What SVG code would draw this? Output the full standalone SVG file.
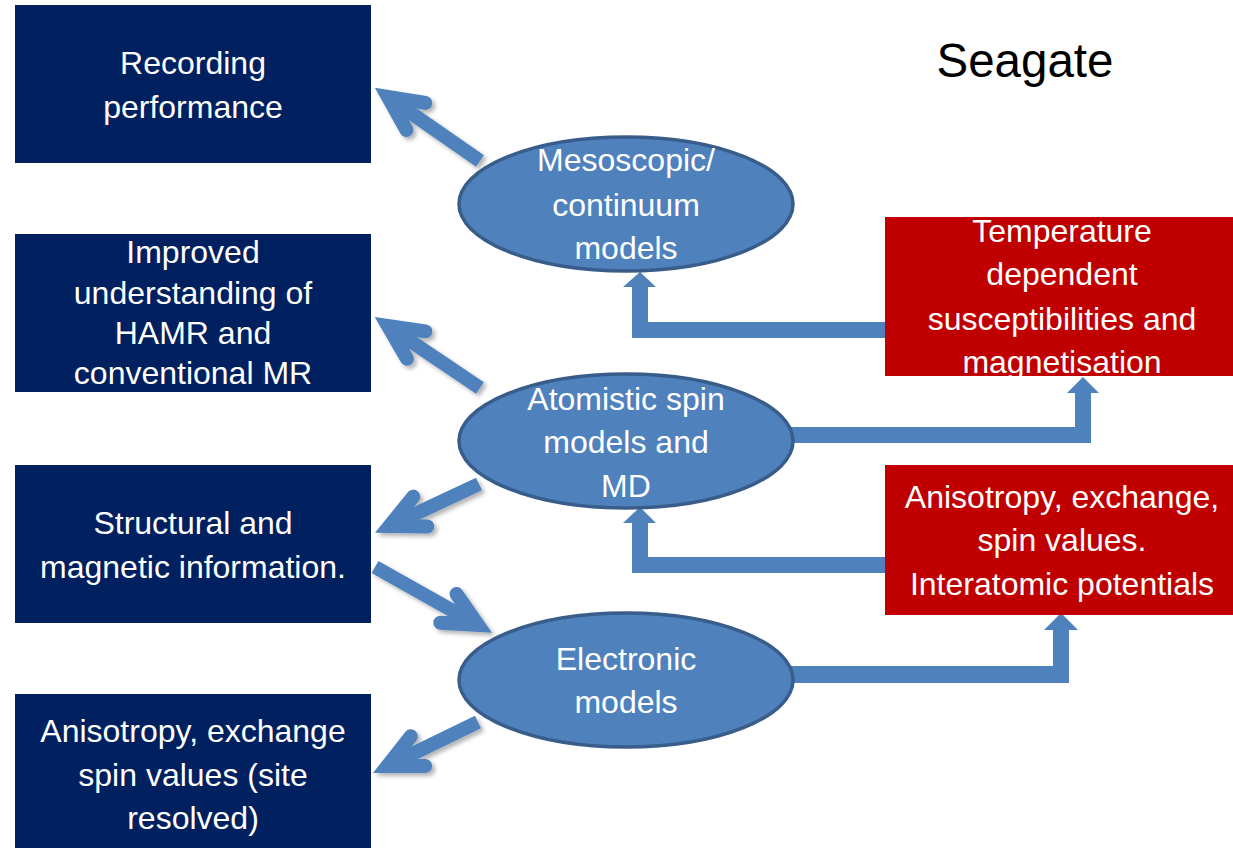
<svg xmlns="http://www.w3.org/2000/svg" width="1233" height="848" viewBox="0 0 1233 848">
  <style>
    .navy { fill: #002060; }
    .red { fill: #C00000; }
    .model { fill: #4F81BD; stroke: #385D8A; stroke-width: 3.5; }
    .label { font-family: "Liberation Sans", Arial, sans-serif; font-size: 32px; fill: #FFFFFF; text-anchor: middle; }
    .title { font-family: "Liberation Sans", Arial, sans-serif; font-size: 47.5px; fill: #000000; text-anchor: middle; }
    .shaft { fill: none; stroke: #4F81BD; stroke-width: 14; stroke-linecap: butt; }
    .elbow { fill: #4F81BD; stroke: none; }
  </style>
  <defs>
    <!-- open chevron head with rounded arm ends; the line ends at the chevron's inner vertex -->
    <marker id="chevron" viewBox="-44 -28 66 56" markerWidth="66" markerHeight="56" refX="0" refY="0" orient="auto" markerUnits="userSpaceOnUse">
      <path d="M-34,-16.5 L0,0 L-34,16.5" fill="none" stroke="#4F81BD" stroke-width="14" stroke-linecap="round" stroke-linejoin="miter" stroke-miterlimit="10"/>
    </marker>
    <filter id="shadow" x="-20%" y="-20%" width="140%" height="140%">
      <feDropShadow dx="3" dy="3" stdDeviation="2" flood-color="#000000" flood-opacity="0.3"/>
    </filter>
  </defs>

  <rect width="1233" height="848" fill="#FFFFFF"/>

  <!-- connectors -->
  <g id="connectors">
    <g filter="url(#shadow)">
      <path class="shaft" d="M480,161 L388,97" marker-end="url(#chevron)"/>
      <path class="shaft" d="M480,388 L388,326" marker-end="url(#chevron)"/>
      <path class="shaft" d="M479,484 L389.5,526" marker-end="url(#chevron)"/>
      <path class="shaft" d="M375,567 L478,625" marker-end="url(#chevron)"/>
      <path class="shaft" d="M478,722 L387.4,766" marker-end="url(#chevron)"/>
    </g>
    <!-- elbow block arrows -->
    <polygon class="elbow" points="885,322 648,322 648,287 656,287 640,272 623,287 632,287 632,338 885,338"/>
    <polygon class="elbow" points="790,427 1075,427 1075,393 1067,393 1083,377 1099,393 1091,393 1091,443 790,443"/>
    <polygon class="elbow" points="885,557 648,557 648,523 656,523 640,507 623,523 632,523 632,573 885,573"/>
    <polygon class="elbow" points="790,666 1053,666 1053,630 1044,630 1061,613 1078,630 1069,630 1069,683 790,683"/>
  </g>

  <!-- output boxes -->
  <g id="recording-performance">
    <rect class="navy" x="15" y="5" width="356" height="158"/>
    <text class="label" x="193" y="74">Recording</text>
    <text class="label" x="193" y="118">performance</text>
  </g>
  <g id="improved-understanding">
    <rect class="navy" x="15" y="234" width="356" height="158"/>
    <text class="label" x="193" y="263">Improved</text>
    <text class="label" x="193" y="304">understanding of</text>
    <text class="label" x="193" y="344">HAMR and</text>
    <text class="label" x="193" y="384">conventional MR</text>
  </g>
  <g id="structural-info">
    <rect class="navy" x="15" y="465" width="356" height="158"/>
    <text class="label" x="193" y="534">Structural and</text>
    <text class="label" x="193" y="578">magnetic information.</text>
  </g>
  <g id="site-resolved">
    <rect class="navy" x="15" y="694" width="356" height="154"/>
    <text class="label" x="193" y="742">Anisotropy, exchange</text>
    <text class="label" x="193" y="786">spin values (site</text>
    <text class="label" x="193" y="829">resolved)</text>
  </g>

  <!-- model levels -->
  <g id="mesoscopic">
    <ellipse class="model" cx="626" cy="204" rx="167" ry="67"/>
    <text class="label" x="626" y="171">Mesoscopic/</text>
    <text class="label" x="626" y="216">continuum</text>
    <text class="label" x="626" y="259">models</text>
  </g>
  <g id="atomistic">
    <ellipse class="model" cx="626" cy="441" rx="167" ry="67"/>
    <text class="label" x="626" y="410">Atomistic spin</text>
    <text class="label" x="626" y="453">models and</text>
    <text class="label" x="626" y="497">MD</text>
  </g>
  <g id="electronic">
    <ellipse class="model" cx="626" cy="680" rx="167" ry="67"/>
    <text class="label" x="626" y="670">Electronic</text>
    <text class="label" x="626" y="713">models</text>
  </g>

  <!-- parameters passed upward -->
  <g id="temperature-dependent">
    <rect class="red" x="885" y="217" width="348" height="159"/>
    <text class="label" x="1062" y="242">Temperature</text>
    <text class="label" x="1062" y="285">dependent</text>
    <text class="label" x="1062" y="330">susceptibilities and</text>
    <text class="label" x="1062" y="373">magnetisation</text>
  </g>
  <g id="interatomic">
    <rect class="red" x="885" y="465" width="348" height="150"/>
    <text class="label" x="1062" y="508">Anisotropy, exchange,</text>
    <text class="label" x="1062" y="551">spin values.</text>
    <text class="label" x="1062" y="595">Interatomic potentials</text>
  </g>

  <g id="seagate">
    <text class="title" x="1025" y="77">Seagate</text>
  </g>
</svg>
